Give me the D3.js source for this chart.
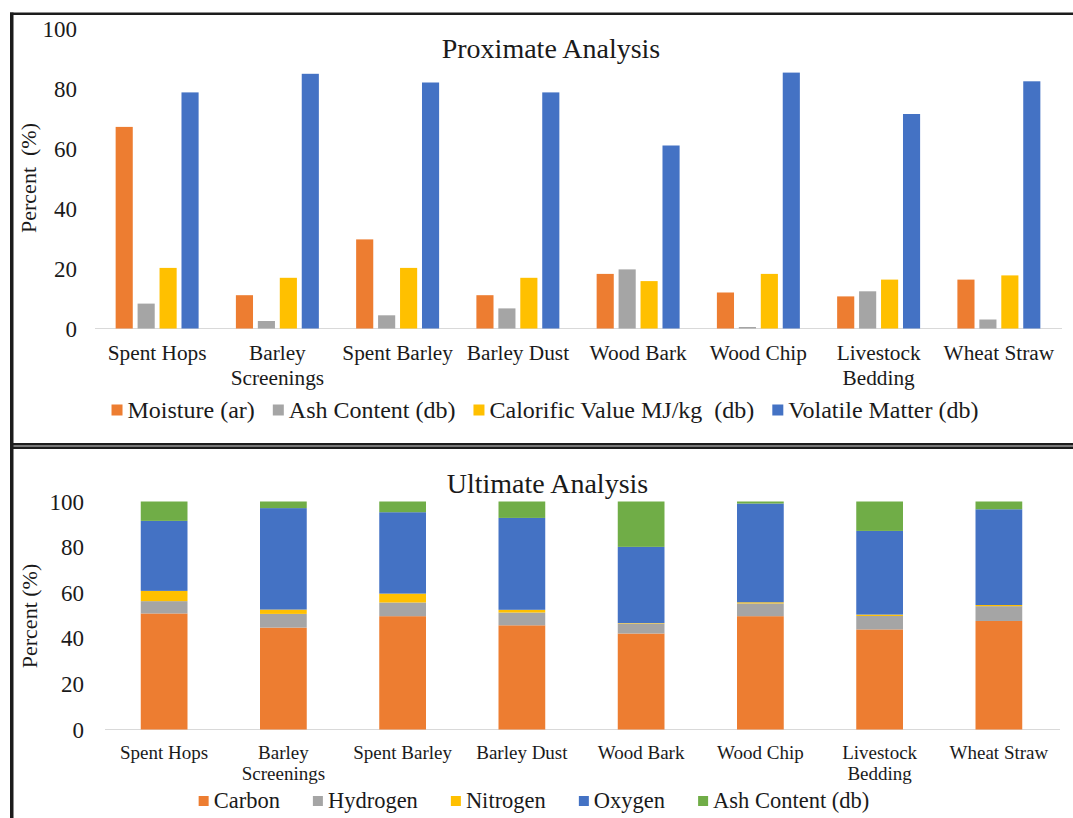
<!DOCTYPE html>
<html>
<head>
<meta charset="utf-8">
<script src="https://cdn.jsdelivr.net/npm/d3@7"></script>
<style>
  html, body { margin: 0; padding: 0; background: #ffffff; }
  svg { display: block; }
  svg text { font-family: 'Liberation Serif', 'Times New Roman', serif; }
</style>
</head>
<body>
<script>
// ---- Data ----
const categories = ["Spent Hops", "Barley Screenings", "Spent Barley", "Barley Dust",
                    "Wood Bark", "Wood Chip", "Livestock Bedding", "Wheat Straw"];

// Proximate analysis (%), clustered bars
const proximateSeries = ["Moisture (ar)", "Ash Content (db)", "Calorific Value MJ/kg  (db)", "Volatile Matter (db)"];
const moisture  = [67.2, 11.1, 29.7, 11.1, 18.2, 12.0, 10.7, 16.3];
const ashProx   = [8.3, 2.5, 4.4, 6.7, 19.7, 0.5, 12.4, 3.0];
const calorific = [20.2, 16.9, 20.2, 16.9, 15.8, 18.2, 16.3, 17.7];
const volatile  = [78.7, 84.9, 82.0, 78.7, 61.0, 85.3, 71.5, 82.4];

// Ultimate analysis (%), stacked to 100
const ultimateSeries = ["Carbon", "Hydrogen", "Nitrogen", "Oxygen", "Ash Content (db)"];
const carbon   = [50.9, 44.7, 49.7, 45.7, 42.1, 49.7, 43.9, 47.6];
const hydrogen = [5.4, 6.0, 6.0, 5.6, 4.4, 5.6, 5.9, 6.5];
const nitrogen = [4.5, 1.9, 3.9, 1.2, 0.2, 0.5, 0.6, 0.5];
const oxygen   = [30.7, 44.5, 35.7, 40.3, 33.4, 43.3, 36.7, 42.0];
const ashUlt   = [8.5, 2.9, 4.7, 7.2, 19.9, 0.9, 12.9, 3.4];

const yTicks = [0, 20, 40, 60, 80, 100];

// ---- Styles ----
const FONT = "'Liberation Serif', 'Times New Roman', serif";
const TEXT = "#1a1a1a";
const proxColors = ["#ED7D31", "#A5A5A5", "#FFC000", "#4472C4"];
const ultColors  = ["#ED7D31", "#A5A5A5", "#FFC000", "#4472C4", "#70AD47"];

const W = 1073, H = 818;
const svg = d3.select("body").append("svg")
  .attr("width", W).attr("height", H)
  .style("font-family", FONT);

// ---- Panel frame ----
const frame = svg.append("g");
frame.append("rect").attr("x", 10).attr("y", 12.5).attr("width", W - 10).attr("height", 2.5).attr("fill", "#1c1c1c");
frame.append("rect").attr("x", 10).attr("y", 443).attr("width", W - 10).attr("height", 6).attr("fill", "#777");
frame.append("rect").attr("x", 10).attr("y", 443).attr("width", W - 10).attr("height", 2).attr("fill", "#1c1c1c");
frame.append("rect").attr("x", 10).attr("y", 447).attr("width", W - 10).attr("height", 2).attr("fill", "#1c1c1c");
frame.append("rect").attr("x", 10).attr("y", 12.5).attr("width", 3.5).attr("height", H - 12.5).attr("fill", "#1c1c1c");

// Wrap a category label into lines no wider than maxW
function wrapLabels(sel, maxW, lineH, firstY) {
  sel.each(function () {
    const t = d3.select(this);
    const words = t.text().split(" ");
    t.text(null).attr("y", null).attr("dy", null);
    const lines = [];
    let cur = [];
    const probe = t.append("tspan");
    words.forEach(w => {
      probe.text(cur.concat([w]).join(" "));
      if (probe.node().getComputedTextLength() > maxW && cur.length) {
        lines.push(cur.join(" "));
        cur = [w];
      } else {
        cur.push(w);
      }
    });
    lines.push(cur.join(" "));
    probe.remove();
    lines.forEach((ln, i) => {
      t.append("tspan").attr("x", 0).attr("y", firstY + i * lineH).text(ln);
    });
  });
}

// Legend laid out as one centred row
function legend(g, names, colors, opts) {
  const items = g.selectAll("g.item").data(names).join("g").attr("class", "item");
  items.append("rect")
    .attr("width", opts.sw).attr("height", opts.sw)
    .attr("y", opts.cy - opts.sw / 2)
    .attr("fill", (d, i) => colors[i]);
  items.append("text")
    .attr("x", opts.sw + opts.pad)
    .attr("y", opts.cy).attr("dy", "0.33em")
    .style("font-family", FONT)
    .attr("font-size", opts.fs).attr("fill", TEXT)
    .style("white-space", "pre")
    .text(d => d);
  const widths = [];
  items.each(function () {
    widths.push(opts.sw + opts.pad + d3.select(this).select("text").node().getComputedTextLength());
  });
  const total = d3.sum(widths) + opts.gap * (names.length - 1);
  let x = opts.cx - total / 2;
  items.attr("transform", (d, i) => {
    const tx = x; x += widths[i] + opts.gap; return `translate(${tx},0)`;
  });
}

function styleYAxis(g, fs) {
  g.select(".domain").remove();
  g.attr("font-family", FONT).attr("font-size", fs);
  g.selectAll("text").style("font-family", FONT).attr("font-size", fs).attr("fill", TEXT).attr("dy", "0.33em");
}

// ================= Proximate Analysis =================
const x0 = d3.scaleBand().domain(categories).range([97, 1059]).paddingInner(0.31).paddingOuter(0.155);
const x1 = d3.scaleBand().domain(proximateSeries).range([0, x0.bandwidth()]).paddingInner(0.22);
const yTop = d3.scaleLinear().domain([0, 100]).range([328.5, 28.5]);
const proxValues = [moisture, ashProx, calorific, volatile];

const proxPanel = svg.append("g");
proxPanel.append("line").attr("x1", 95).attr("x2", 1062).attr("y1", yTop(0)).attr("y2", yTop(0))
  .attr("stroke", "#d9d9d9").attr("stroke-width", 1);

const groups = proxPanel.selectAll("g.cat").data(categories).join("g").attr("class", "cat")
  .attr("transform", d => `translate(${x0(d)},0)`);
groups.selectAll("rect")
  .data((c, ci) => proximateSeries.map((s, si) => ({ s, si, v: proxValues[si][ci] })))
  .join("rect")
  .attr("x", d => x1(d.s))
  .attr("width", x1.bandwidth())
  .attr("y", d => yTop(d.v))
  .attr("height", d => yTop(0) - yTop(d.v))
  .attr("fill", d => proxColors[d.si]);

proxPanel.append("g").attr("transform", "translate(97,0)")
  .call(d3.axisLeft(yTop).tickValues(yTicks).tickSize(0).tickPadding(20))
  .call(g => styleYAxis(g, 23));

proxPanel.append("g").attr("transform", `translate(0,${yTop(0)})`)
  .call(d3.axisBottom(x0).tickSize(0))
  .call(g => {
    g.select(".domain").remove();
    g.attr("font-family", FONT).attr("font-size", 21.3);
    g.selectAll("text").style("font-family", FONT).attr("font-size", 21.3).attr("fill", TEXT);
    wrapLabels(g.selectAll("text"), x0.step() * 0.96, 24.4, 31.8);
  });

proxPanel.append("text").attr("x", 551).attr("y", 58).attr("text-anchor", "middle")
  .style("font-family", FONT)
  .attr("font-size", 28).attr("fill", TEXT).text("Proximate Analysis");

proxPanel.append("text").attr("transform", "translate(36,178) rotate(-90)")
  .attr("text-anchor", "middle").attr("font-size", 22).attr("fill", TEXT)
  .style("font-family", FONT)
  .style("white-space", "pre").text("Percent  (%)");

legend(proxPanel.append("g"), proximateSeries, proxColors, { cx: 545, cy: 410, sw: 11, pad: 5, gap: 18, fs: 24 });

// ================= Ultimate Analysis =================
const xs = d3.scaleBand().domain(categories).range([104.5, 1058.5]).paddingInner(0.608).paddingOuter(0.304);
const yBot = d3.scaleLinear().domain([0, 100]).range([729.5, 501.5]);
const ultValues = [carbon, hydrogen, nitrogen, oxygen, ashUlt];
const rows = categories.map((c, ci) => {
  const r = { cat: c };
  ultimateSeries.forEach((s, si) => { r[s] = ultValues[si][ci]; });
  return r;
});
const stacked = d3.stack().keys(ultimateSeries)(rows);

const ultPanel = svg.append("g");
ultPanel.append("line").attr("x1", 105).attr("x2", 1060).attr("y1", yBot(0)).attr("y2", yBot(0))
  .attr("stroke", "#d9d9d9").attr("stroke-width", 1);

ultPanel.selectAll("g.layer").data(stacked).join("g").attr("class", "layer")
  .attr("fill", (d, i) => ultColors[i])
  .selectAll("rect").data(d => d).join("rect")
  .attr("x", d => xs(d.data.cat))
  .attr("width", xs.bandwidth())
  .attr("y", d => yBot(d[1]))
  .attr("height", d => yBot(d[0]) - yBot(d[1]));

ultPanel.append("g").attr("transform", "translate(104.5,0)")
  .call(d3.axisLeft(yBot).tickValues(yTicks).tickSize(0).tickPadding(20.5))
  .call(g => styleYAxis(g, 23));

ultPanel.append("g").attr("transform", `translate(0,${yBot(0)})`)
  .call(d3.axisBottom(xs).tickSize(0))
  .call(g => {
    g.select(".domain").remove();
    g.attr("font-family", FONT).attr("font-size", 19);
    g.selectAll("text").style("font-family", FONT).attr("font-size", 19).attr("fill", TEXT);
    wrapLabels(g.selectAll("text"), xs.step() * 0.96, 20.6, 29.5);
  });

ultPanel.append("text").attr("x", 547.5).attr("y", 493).attr("text-anchor", "middle")
  .style("font-family", FONT)
  .attr("font-size", 28).attr("fill", TEXT).text("Ultimate Analysis");

ultPanel.append("text").attr("transform", "translate(37,616) rotate(-90)")
  .attr("text-anchor", "middle").attr("font-size", 22).attr("fill", TEXT)
  .style("font-family", FONT)
  .text("Percent (%)");

legend(ultPanel.append("g"), ultimateSeries, ultColors, { cx: 534, cy: 801, sw: 10, pad: 5, gap: 33, fs: 22.5 });
</script>
</body>
</html>
